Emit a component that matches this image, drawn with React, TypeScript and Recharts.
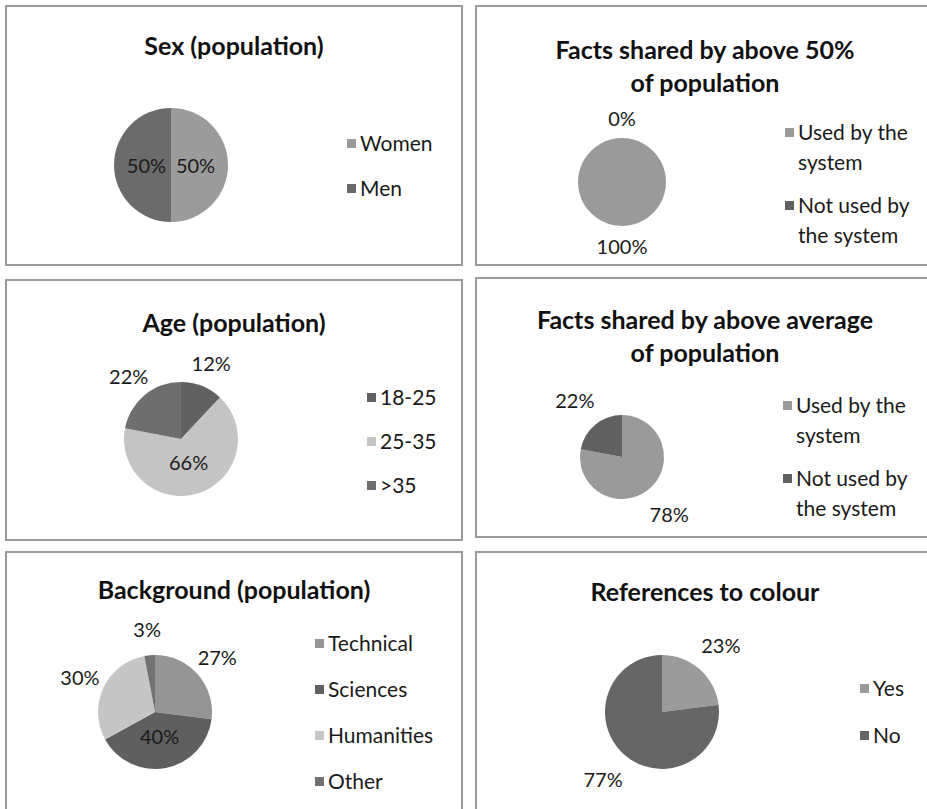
import React from "react";
import { PieChart, Pie, Legend } from "recharts";

// values (percent of population)
const sexNames = ["Women", "Men"];
const sexValues = [50, 50];
const sexColors = ["#9b9b9b", "#6b6b6b"];

const factsNames = ["Used by the system", "Not used by the system"];
const facts50Values = [100, 0];
const factsAvgValues = [78, 22];
const factsColors = ["#9a9a9a", "#606060"];

const ageNames = ["18-25", "25-35", ">35"];
const ageValues = [12, 66, 22];
const ageColors = ["#616161", "#c4c4c4", "#6e6e6e"];

const bgNames = ["Technical", "Sciences", "Humanities", "Other"];
const bgValues = [27, 40, 30, 3];
const bgColors = ["#959595", "#5f5f5f", "#c6c6c6", "#717171"];

const colourNames = ["Yes", "No"];
const colourValues = [23, 77];
const colourColors = ["#9b9b9b", "#666666"];

const FONT = "Lato, 'Open Sans', sans-serif";
const RAD = Math.PI / 180;

type PanelProps = {
  left: number;
  top: number;
  width: number;
  height: number;
  title: string[];
  titleTop: number;
  names: string[];
  values: number[];
  colors: string[];
  cx: number;
  cy: number;
  r: number;
  inside: string[];
  outGap: number;
  legendX: number;
  legendY: number;
  legendStep: number;
  wrapWidth?: number;
};

function PiePanel(p: PanelProps) {
  const data = p.names.map((name, i) => ({
    name,
    value: p.values[i],
    fill: p.colors[i],
  }));

  const renderLabel = (lp: any) => {
    const name = lp.payload?.name ?? lp.name;
    const isIn = p.inside.includes(name);
    const dist = isIn ? p.r * 0.43 : p.r + p.outGap;
    const x = p.cx + dist * Math.cos(-lp.midAngle * RAD);
    const y = p.cy + dist * Math.sin(-lp.midAngle * RAD);
    return (
      <text
        x={x}
        y={y}
        textAnchor="middle"
        dominantBaseline="central"
        fill="#1a1a1a"
        style={{ fontFamily: FONT, fontSize: 20 }}
      >
        {`${lp.value}%`}
      </text>
    );
  };

  const legendContent = (lp: any) => (
    <div style={{ fontFamily: FONT, fontSize: 21, color: "#1a1a1a" }}>
      {(lp.payload || []).map((e: any) => (
        <div
          key={e.value}
          style={{ display: "flex", alignItems: "flex-start", height: p.legendStep }}
        >
          <span
            style={{
              display: "inline-block",
              width: 9,
              height: 9,
              background: e.color,
              marginTop: 11,
              marginRight: 4,
              flex: "none",
            }}
          />
          <span style={{ lineHeight: "30px", width: p.wrapWidth, whiteSpace: p.wrapWidth ? "normal" : "nowrap" }}>
            {e.value}
          </span>
        </div>
      ))}
    </div>
  );

  return (
    <div
      style={{
        position: "absolute",
        left: p.left,
        top: p.top,
        width: p.width,
        height: p.height,
        border: "2px solid #9a9a9a",
        boxSizing: "border-box",
        background: "#fff",
      }}
    >
      <div
        style={{
          position: "absolute",
          left: 0,
          top: p.titleTop,
          width: p.width - 4,
          textAlign: "center",
          fontFamily: FONT,
          fontWeight: 700,
          fontSize: 25,
          lineHeight: "33px",
          color: "#111",
        }}
      >
        {p.title.map((t) => (
          <div key={t}>{t}</div>
        ))}
      </div>
      <div style={{ position: "absolute", left: -2, top: -2 }}>
        <PieChart width={p.width} height={p.height} margin={{ top: 0, right: 0, bottom: 0, left: 0 }}>
          <Pie
            data={data}
            dataKey="value"
            nameKey="name"
            cx={p.cx}
            cy={p.cy}
            outerRadius={p.r}
            startAngle={90}
            endAngle={-270}
            stroke="none"
            label={renderLabel}
            labelLine={false}
            isAnimationActive={false}
          />
          <Legend
            layout="horizontal"
            align="center"
            verticalAlign="middle"
            itemSorter={(item: any) => p.names.indexOf(item.value)}
            content={legendContent}
            wrapperStyle={{ left: p.legendX, top: p.legendY - 15, width: "auto" }}
          />
        </PieChart>
      </div>
    </div>
  );
}

export default function App() {
  return (
    <div
      style={{
        position: "absolute",
        left: 0,
        top: 0,
        width: 927,
        height: 809,
        overflow: "hidden",
        background: "#fff",
      }}
    >
      <PiePanel
        left={5} top={5} width={458} height={261}
        title={["Sex (population)"]} titleTop={22}
        names={sexNames} values={sexValues} colors={sexColors}
        cx={166} cy={160} r={57} inside={["Women", "Men"]} outGap={27}
        legendX={342} legendY={138} legendStep={45}
      />
      <PiePanel
        left={475} top={5} width={460} height={261}
        title={["Facts shared by above 50%", "of population"]} titleTop={26}
        names={factsNames} values={facts50Values} colors={factsColors}
        cx={147} cy={177} r={44} inside={[]} outGap={20}
        legendX={310} legendY={127} legendStep={73} wrapWidth={120}
      />
      <PiePanel
        left={5} top={279} width={458} height={262}
        title={["Age (population)"]} titleTop={25}
        names={ageNames} values={ageValues} colors={ageColors}
        cx={176} cy={160} r={57} inside={["25-35"]} outGap={25}
        legendX={362} legendY={118} legendStep={44}
      />
      <PiePanel
        left={475} top={277} width={460} height={261}
        title={["Facts shared by above average", "of population"]} titleTop={24}
        names={factsNames} values={factsAvgValues} colors={factsColors}
        cx={147} cy={180} r={42} inside={[]} outGap={32}
        legendX={308} legendY={128} legendStep={73} wrapWidth={120}
      />
      <PiePanel
        left={5} top={551} width={458} height={270}
        title={["Background (population)"]} titleTop={20}
        names={bgNames} values={bgValues} colors={bgColors}
        cx={150} cy={161} r={57} inside={["Sciences"]} outGap={26}
        legendX={310} legendY={92} legendStep={46}
      />
      <PiePanel
        left={475} top={551} width={460} height={270}
        title={["References to colour"]} titleTop={22}
        names={colourNames} values={colourValues} colors={colourColors}
        cx={187} cy={161} r={57} inside={[]} outGap={32}
        legendX={385} legendY={137} legendStep={47}
      />
    </div>
  );
}
